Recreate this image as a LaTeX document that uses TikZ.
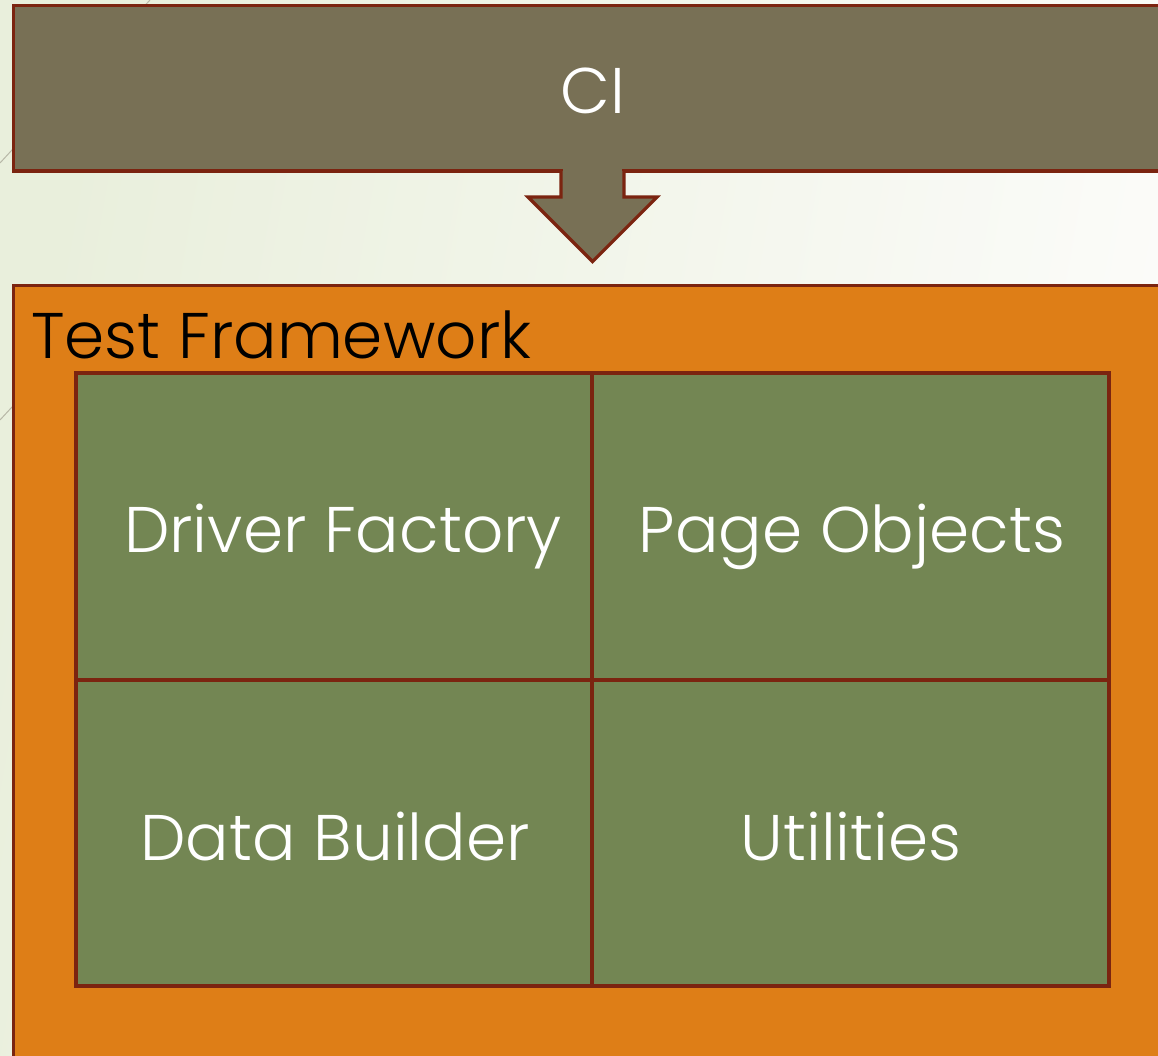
\documentclass[tikz,border=0pt]{standalone}
\usepackage{fontspec}
\setmainfont{Poppins}
\newfontfamily\gothic{Poppins Light}
\definecolor{bgL}{HTML}{E9EFDC}
\definecolor{bgR}{HTML}{FCFCFA}
\definecolor{ciFill}{HTML}{787055}
\definecolor{edge}{HTML}{7B2410}
\definecolor{orangeFill}{HTML}{DE7E17}
\definecolor{greenFill}{HTML}{738653}
\definecolor{deco}{HTML}{B8B8A8}
\tikzset{
  box/.style={draw=edge, line width=3.2pt, line join=miter},
  lbl/.style={font=\gothic\fontsize{64.5}{70}\selectfont, inner sep=0pt},
}
\begin{document}
\begin{tikzpicture}[x=1pt,y=-1pt]
\useasboundingbox (0,0) rectangle (1158,1055);
\clip (0,0) rectangle (1158,1055);
\shade[left color=bgL, right color=bgR, shading angle=80] (0,0) rectangle (1158,1055);
% faint decorative lines
\draw[deco, line width=1pt] (150,0) -- (0,163);
\draw[deco, line width=1pt] (120,290) -- (0,420);
% CI box
\draw[box, fill=ciFill] (13.5,5.5) rectangle (1175,171);
\node[lbl, text=white, anchor=base] (ci) at (593,113) {CI};
% arrow
\draw[box, fill=ciFill] (561,171) -- (561,197) -- (528,197) -- (592.5,261.5) -- (657,197) -- (624,197) -- (624,171);
\fill[ciFill] (562.6,165) rectangle (622.4,198);
% Test Framework
\draw[box, fill=orangeFill] (13.5,285.5) rectangle (1175,1080);
\node[lbl, text=black, anchor=base west] (tf) at (31,358) {Test Framework};
% grid
\draw[box, fill=greenFill] (76,373) rectangle (1109,986);
\draw[box] (592,373) -- (592,986);
\draw[box] (76,680) -- (1109,680);
\node[lbl, text=white, anchor=base] (df) at (343,552) {Driver Factory};
\node[lbl, text=white, anchor=base] (po) at (852,552) {Page Objects};
\node[lbl, text=white, anchor=base] (db) at (335,860) {Data Builder};
\node[lbl, text=white, anchor=base] (ut) at (851,860) {Utilities};
\end{tikzpicture}
\end{document}
